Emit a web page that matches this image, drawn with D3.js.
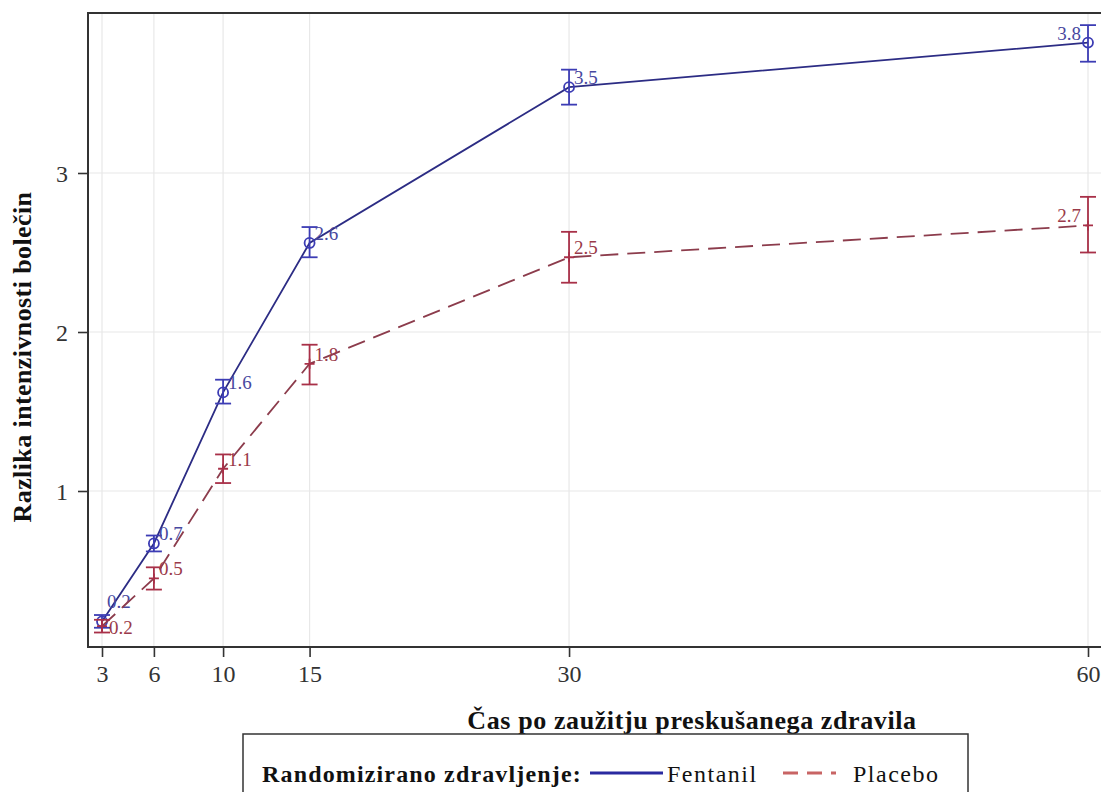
<!DOCTYPE html>
<html>
<head>
<meta charset="utf-8">
<script src="https://cdn.jsdelivr.net/npm/d3@7"></script>
<style>
  body { margin: 0; background: #fff; }
  svg text { font-family: "Liberation Serif", "Times New Roman", serif; }
</style>
</head>
<body>
<svg width="1101" height="792"></svg>
<script>
var times = [3, 6, 10, 15, 30, 60];
var yTicks = [1, 2, 3];

var fentMean = [0.18, 0.67, 1.62, 2.56, 3.54, 3.82];
var fentLow  = [0.14, 0.62, 1.55, 2.47, 3.43, 3.70];
var fentHigh = [0.22, 0.72, 1.70, 2.66, 3.65, 3.93];
var fentLabels = ["0.2", "0.7", "1.6", "2.6", "3.5", "3.8"];

var placMean = [0.15, 0.45, 1.14, 1.80, 2.47, 2.67];
var placLow  = [0.11, 0.38, 1.05, 1.67, 2.31, 2.50];
var placHigh = [0.19, 0.52, 1.23, 1.92, 2.63, 2.85];
var placLabels = ["0.2", "0.5", "1.1", "1.8", "2.5", "2.7"];

var svg = d3.select("svg"),
  width = +svg.attr("width"),
  height = +svg.attr("height");

var plotL = 88, plotT = 13, plotB = 647, plotR = 1110;
var serif = "'Liberation Serif', 'Times New Roman', serif";

var x = d3.scaleLinear().domain([3, 60]).range([102, 1088]);
var y = d3.scaleLinear().domain([1, 3]).range([491, 173]);

var blue = "#3c3cb4", blueLine = "#2c2c84";
var red = "#a83048", redLine = "#8c3c4c";

// grid
svg.append("g").selectAll("line")
  .data(times)
  .enter().append("line")
  .attr("x1", function(d) { return x(d); })
  .attr("x2", function(d) { return x(d); })
  .attr("y1", plotT).attr("y2", plotB)
  .attr("stroke", "#e8e8e8").attr("stroke-width", 1.2);

svg.append("g").selectAll("line")
  .data(yTicks)
  .enter().append("line")
  .attr("x1", plotL).attr("x2", plotR)
  .attr("y1", function(d) { return y(d); })
  .attr("y2", function(d) { return y(d); })
  .attr("stroke", "#e8e8e8").attr("stroke-width", 1.2);

// axes
var xAxis = svg.append("g")
  .attr("transform", "translate(0," + plotB + ")")
  .call(d3.axisBottom(x).tickValues(times).tickSize(10).tickPadding(8).tickSizeOuter(0));
var yAxis = svg.append("g")
  .attr("transform", "translate(" + plotL + ",0)")
  .call(d3.axisLeft(y).tickValues(yTicks).tickFormat(d3.format("d")).tickSize(10).tickPadding(10).tickSizeOuter(0));

[xAxis, yAxis].forEach(function(a) {
  a.select(".domain").remove();
  a.selectAll(".tick line").attr("stroke", "#333").attr("stroke-width", 1.6);
  a.selectAll(".tick text")
    .attr("fill", "#333")
    .style("font-family", serif)
    .style("font-size", "24px");
});
yAxis.selectAll(".tick text").attr("dy", "0.35em");

// frame
svg.append("path")
  .attr("d", "M" + plotR + "," + plotT + "H" + plotL + "V" + plotB + "H" + plotR)
  .attr("fill", "none").attr("stroke", "#333").attr("stroke-width", 2);

// series
function drawSeries(mean, low, high, labels, lineColor, color, dash, marker, labelColor) {
  var pts = times.map(function(t, i) {
    return { t: t, m: mean[i], lo: low[i], hi: high[i], lab: labels[i], i: i };
  });
  var line = d3.line()
    .x(function(d) { return x(d.t); })
    .y(function(d) { return y(d.m); });

  svg.append("path")
    .datum(pts)
    .attr("d", line)
    .attr("fill", "none")
    .attr("stroke", lineColor)
    .attr("stroke-width", 1.8)
    .attr("stroke-dasharray", dash);

  var g = svg.append("g").selectAll("g")
    .data(pts)
    .enter().append("g");

  g.append("line")
    .attr("x1", function(d) { return x(d.t); })
    .attr("x2", function(d) { return x(d.t); })
    .attr("y1", function(d) { return y(d.lo); })
    .attr("y2", function(d) { return y(d.hi); })
    .attr("stroke", color).attr("stroke-width", 1.8);
  ["lo", "hi"].forEach(function(k) {
    g.append("line")
      .attr("x1", function(d) { return x(d.t) - 8; })
      .attr("x2", function(d) { return x(d.t) + 8; })
      .attr("y1", function(d) { return y(d[k]); })
      .attr("y2", function(d) { return y(d[k]); })
      .attr("stroke", color).attr("stroke-width", 1.8);
  });

  if (marker == "circle") {
    g.append("circle")
      .attr("cx", function(d) { return x(d.t); })
      .attr("cy", function(d) { return y(d.m); })
      .attr("r", 5)
      .attr("fill", "none")
      .attr("stroke", color).attr("stroke-width", 1.8);
  } else {
    g.append("path")
      .attr("d", function(d) {
        var cx = x(d.t), cy = y(d.m);
        return "M" + (cx - 5) + "," + cy + "H" + (cx + 5) + "M" + cx + "," + (cy - 5) + "V" + (cy + 5);
      })
      .attr("stroke", color).attr("stroke-width", 1.8);
  }

  g.append("text")
    .attr("x", function(d) { return d.t == 60 ? x(d.t) - 7 : x(d.t) + 5; })
    .attr("y", function(d) { return y(d.m) - 3; })
    .attr("text-anchor", function(d) { return d.t == 60 ? "end" : "start"; })
    .attr("fill", labelColor)
    .style("font-family", serif)
    .style("font-size", "19px")
    .text(function(d) { return d.lab; });
  return g;
}

var fg = drawSeries(fentMean, fentLow, fentHigh, fentLabels, blueLine, blue, null, "circle", "#4848a0");
var pg = drawSeries(placMean, placLow, placHigh, placLabels, redLine, red, "18,9", "plus", "#9a3a4a");

// labels near the crowded origin
fg.filter(function(d) { return d.i == 0; }).select("text").attr("y", function(d) { return y(d.m) - 13; });
pg.filter(function(d) { return d.i == 0; }).select("text").attr("y", function(d) { return y(d.m) + 8; }).attr("x", function(d) { return x(d.t) + 7; });

// axis titles
svg.append("text")
  .attr("transform", "translate(31,357) rotate(-90)")
  .attr("text-anchor", "middle")
  .attr("fill", "#111")
  .style("font-family", serif)
  .style("font-size", "26px").style("font-weight", "bold")
  .style("letter-spacing", "0.4px")
  .text("Razlika intenzivnosti bolečin");

svg.append("text")
  .attr("x", 692).attr("y", 729)
  .attr("text-anchor", "middle")
  .attr("fill", "#111")
  .style("font-family", serif)
  .style("font-size", "26px").style("font-weight", "bold")
  .style("letter-spacing", "0.6px")
  .text("Čas po zaužitju preskušanega zdravila");

// legend
var lg = svg.append("g");
lg.append("rect")
  .attr("x", 243).attr("y", 734).attr("width", 725).attr("height", 70)
  .attr("fill", "none").attr("stroke", "#333").attr("stroke-width", 1.5);
lg.append("text")
  .attr("x", 262).attr("y", 782)
  .attr("fill", "#111")
  .style("font-family", serif)
  .style("font-size", "24px").style("font-weight", "bold")
  .style("letter-spacing", "1.15px")
  .text("Randomizirano zdravljenje:");
lg.append("line")
  .attr("x1", 590).attr("x2", 663).attr("y1", 773).attr("y2", 773)
  .attr("stroke", "#2a2aa0").attr("stroke-width", 3);
lg.append("text")
  .attr("x", 667).attr("y", 782)
  .attr("fill", "#111")
  .style("font-family", serif).style("font-size", "24px")
  .style("letter-spacing", "1.5px")
  .text("Fentanil");
lg.append("line")
  .attr("x1", 783).attr("x2", 836).attr("y1", 773).attr("y2", 773)
  .attr("stroke", "#c86464").attr("stroke-width", 3)
  .attr("stroke-dasharray", "15,9");
lg.append("text")
  .attr("x", 853).attr("y", 782)
  .attr("fill", "#111")
  .style("font-family", serif).style("font-size", "24px")
  .style("letter-spacing", "1.5px")
  .text("Placebo");
</script>
</body>
</html>
